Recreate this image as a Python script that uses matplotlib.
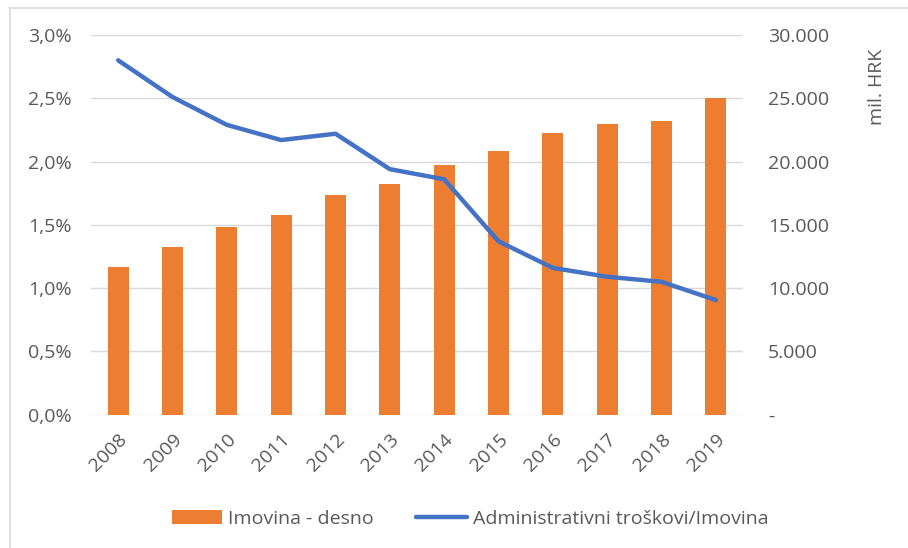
import matplotlib
matplotlib.use("Agg")
import matplotlib.pyplot as plt
from matplotlib.lines import Line2D
from matplotlib.patches import Patch
from matplotlib.ticker import FuncFormatter, MultipleLocator

plt.rcParams['font.family'] = ['Open Sans', 'DejaVu Sans']

years = ["2008", "2009", "2010", "2011", "2012", "2013",
         "2014", "2015", "2016", "2017", "2018", "2019"]
assets = [11700, 13250, 14800, 15770, 17330, 18200,
          19750, 20830, 22280, 22990, 23220, 25040]          # mil. HRK (right axis)
cost_ratio = [2.80, 2.51, 2.29, 2.17, 2.22, 1.94,
              1.86, 1.37, 1.16, 1.09, 1.05, 0.906]           # % (left axis)

ORANGE = "#ED7D31"
BLUE = "#4472C4"
TEXT = "#595959"
GRID = "#D9D9D9"
FS = 14

W, H = 908, 548
fig = plt.figure(figsize=(W / 100, H / 100), dpi=100)

ax = fig.add_axes([91 / W, 1 - 414.7 / H, (743 - 91) / W, (414.7 - 35) / H])
ax2 = ax.twinx()

x = list(range(len(years)))

# bars on the right (amount) axis, drawn beneath the ratio line
ax2.bar(x, assets, width=0.39, color=ORANGE, zorder=2)
ax2.set_ylim(0, 30000)
ax2.yaxis.set_major_locator(MultipleLocator(5000))
ax2.yaxis.set_major_formatter(FuncFormatter(
    lambda v, p: "-" if v == 0 else f"{int(v):,}".replace(",", ".")))

ax.set_zorder(ax2.get_zorder() + 1)
ax.patch.set_visible(False)
ax.plot(x, cost_ratio, color=BLUE, lw=3.2, solid_joinstyle="round",
        solid_capstyle="round", zorder=3)
ax.set_ylim(0, 3.0)
ax.yaxis.set_major_locator(MultipleLocator(0.5))
ax.yaxis.set_major_formatter(FuncFormatter(lambda v, p: f"{v:.1f}%".replace(".", ",")))
ax.set_xlim(-0.5, len(years) - 0.5)
ax.set_xticks(x)
ax.set_xticklabels(years, rotation=45, ha="right", rotation_mode="anchor")

# horizontal gridlines drawn behind the bars
for v in [0.5, 1.0, 1.5, 2.0, 2.5, 3.0]:
    ax2.axhline(v * 10000, color=GRID, lw=1, zorder=0)
ax2.axhline(0, color=GRID, lw=1, zorder=0)

for a in (ax, ax2):
    for s in a.spines.values():
        s.set_visible(False)
    a.tick_params(length=0, colors=TEXT, labelsize=FS)
ax.tick_params(axis="y", pad=14)
ax.tick_params(axis="x", pad=11)
ax2.tick_params(axis="y", pad=18)
for t in ax2.get_yticklabels():
    t.set_ha("left")

# unit caption for the right axis, placed near its top
fig.text(877 / W, 1 - 87 / H, "mil. HRK", rotation=90, color=TEXT, fontsize=FS,
         ha="center", va="center")

handles = [Patch(facecolor=ORANGE, edgecolor="none"),
           Line2D([0], [0], color=BLUE, lw=3.2, solid_capstyle="round")]
fig.legend(handles, ["Imovina - desno", "Administrativni troškovi/Imovina"],
           loc="center", bbox_to_anchor=(470 / W, 1 - 519 / H), ncol=2,
           frameon=False, fontsize=FS, labelcolor=TEXT,
           handlelength=2.6, handleheight=0.7, handletextpad=0.3,
           columnspacing=2.2)

# thin chart-area frame along the top and left
fig.add_artist(Line2D([10 / W, 10 / W], [0, 1 - 8 / H], transform=fig.transFigure,
                      color=GRID, lw=1.2))
fig.add_artist(Line2D([10 / W, 1], [1 - 8 / H, 1 - 8 / H], transform=fig.transFigure,
                      color=GRID, lw=1.2))

fig.savefig("out.png", dpi=100, facecolor="white")
